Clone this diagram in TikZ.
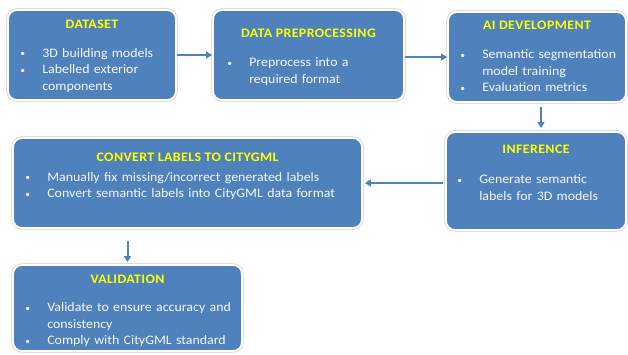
\documentclass[tikz,border=0pt]{standalone}
\usepackage{fontspec}
\setmainfont{Carlito}[FakeStretch=1.07]
\newfontfamily\titlefont{Carlito}[FakeStretch=1.07,LetterSpace=3]
\usetikzlibrary{arrows.meta,positioning}
\definecolor{boxblue}{RGB}{79,129,189}
\definecolor{titleyellow}{RGB}{255,255,0}
\newcommand{\blt}{\par\noindent\hangindent=23pt\hangafter=1\makebox[23pt][l]{\hspace{1pt}\raisebox{0.5pt}{\fontsize{9}{9}\selectfont\textbullet}}}

\begin{document}
\begin{tikzpicture}[x=1pt,y=1pt,
  stage/.style={rectangle,rounded corners=9pt,fill=boxblue,draw=white,line width=1.8pt,
    inner sep=0pt,preaction={draw=black!13,line width=3.8pt}},
  title/.style={inner sep=0pt,text=titleyellow,font=\titlefont\fontsize{13}{15}\selectfont\bfseries},
  list/.style={inner sep=0pt,text=white!94!boxblue,text width=330pt,align=left,
    font=\fontsize{13}{16.5}\selectfont},
  flow/.style={draw=boxblue,line width=2pt,-{Triangle[length=6pt,width=7pt]}}]
\useasboundingbox (0,0) rectangle (628,-354);

% boxes
\node (dataset) [stage,minimum width=168pt,minimum height=90pt] at (92,-55) {};
\node (prep) [stage,minimum width=191pt,minimum height=90pt] at (308.5,-55) {};
\node (ai) [stage,minimum width=178pt,minimum height=90pt] at (537,-57) {};
\node (inference) [stage,minimum width=180pt,minimum height=98pt] at (536,-181) {};
\node (convert) [stage,minimum width=349pt,minimum height=90pt] at (187.5,-183) {};
\node (validation) [stage,minimum width=229pt,minimum height=86pt] at (127.5,-308) {};

% titles
\node (dataset-title) [title,below=10.5pt of dataset.north] {DATASET};
\node (prep-title) [title,below=20pt of prep.north] {DATA PREPROCESSING};
\node (ai-title) [title,below=10pt of ai.north] {AI DEVELOPMENT};
\node (inference-title) [title,below=14pt of inference.north] {INFERENCE};
\node (convert-title) [title,below=16pt of convert.north] {CONVERT LABELS TO CITYGML};
\node (validation-title) [title,below=10.5pt of validation.north] {VALIDATION};

% bullet lists
\node (dataset-list) [list,below right=31.5pt and 12pt of dataset.north west]
  {\blt 3D building models\blt Labelled exterior\newline components\par};
\node (prep-list) [list,below right=41pt and 14pt of prep.north west]
  {\blt Preprocess into a\newline required format\par};
\node (ai-list) [list,below right=31pt and 12pt of ai.north west]
  {\blt Semantic segmentation\newline model training\blt Evaluation metrics\par};
\node (inference-list) [list,below right=36pt and 11pt of inference.north west]
  {\blt Generate semantic\newline labels for 3D models\par};
\node (convert-list) [list,below right=27.5pt and 12pt of convert.north west]
  {\blt Manually fix missing/incorrect generated labels\blt Convert semantic labels into CityGML data format\par};
\node (validation-list) [list,below right=31pt and 12pt of validation.north west]
  {\blt Validate to ensure accuracy and\newline consistency\blt Comply with CityGML standard\par};

% connectors
\draw[flow] (dataset.east) -- (prep.west);
\draw[flow] (prep.east |- ai.west) -- (ai.west);
\draw[flow,shorten <=4pt,shorten >=3pt] ([xshift=4pt]ai.south) -- ([xshift=4pt]ai.south |- inference.north);
\draw[flow,shorten <=2pt,shorten >=2pt] (inference.west |- convert.east) -- (convert.east);
\draw[flow,shorten <=12pt,shorten >=2pt] (convert.south -| validation.north) -- (validation.north);
\end{tikzpicture}
\end{document}
